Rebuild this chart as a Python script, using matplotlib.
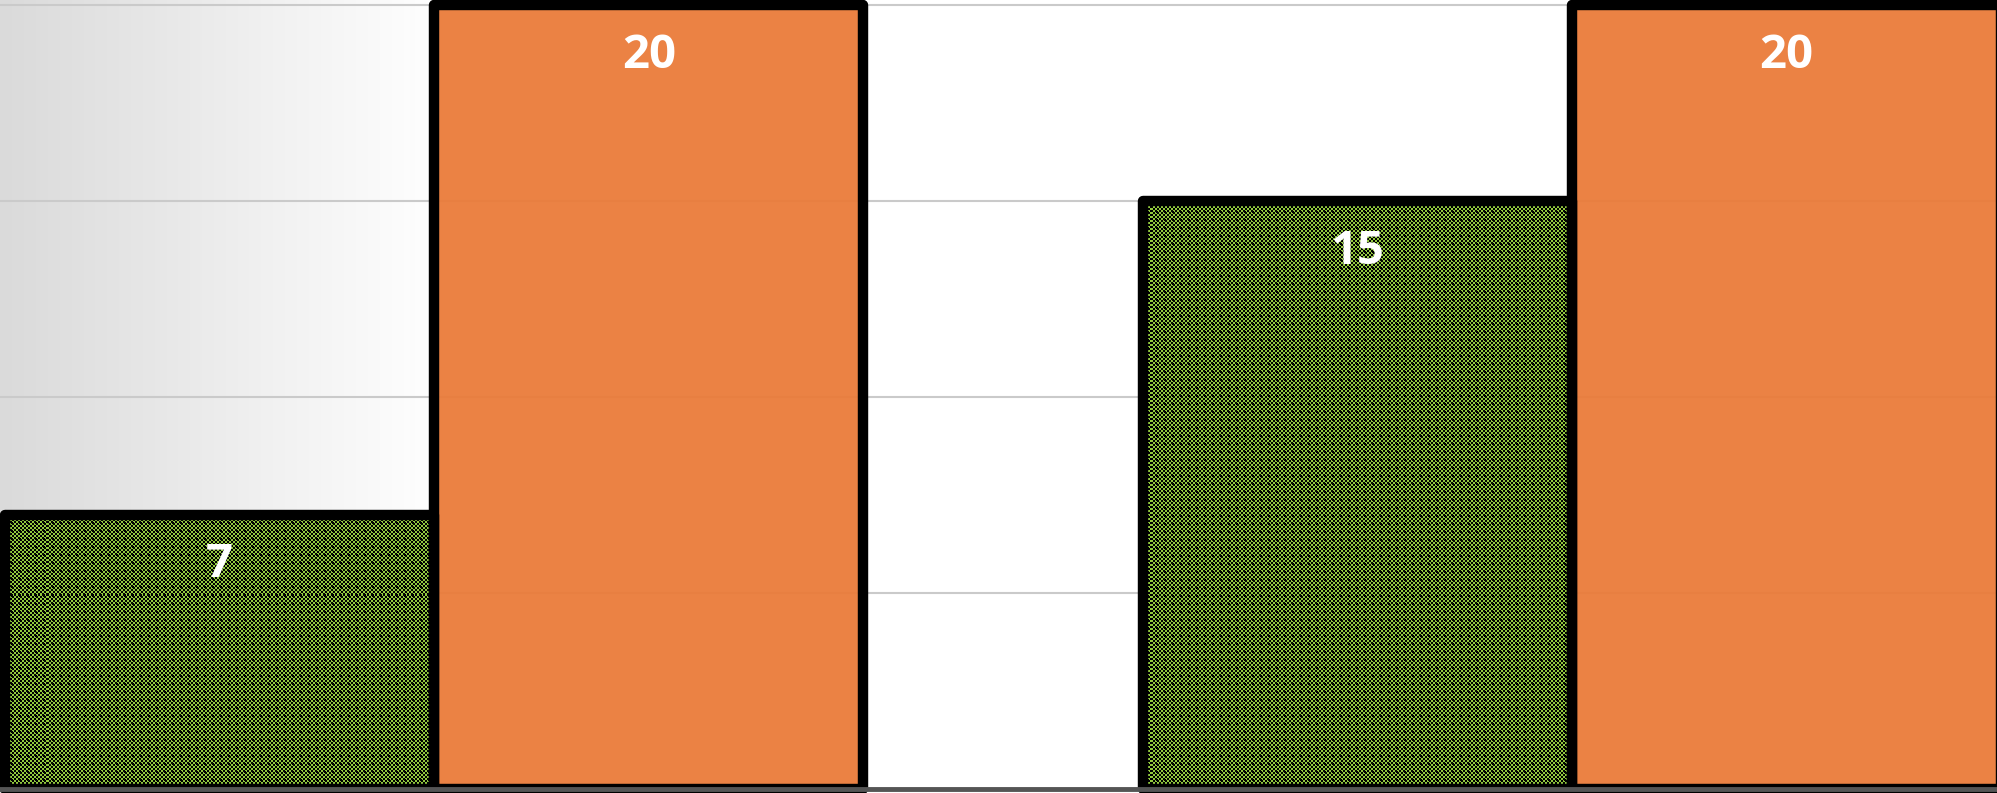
import matplotlib

matplotlib.use("Agg")
import matplotlib.pyplot as plt
import numpy as np

# two categories, two series
categories = ["Group 1", "Group 2"]
green_values = [7, 15]
orange_values = [20, 20]
grid_ticks = [5, 10, 15, 20]

GREEN = "#92ca3e"
ORANGE = "#ea7b3a"
GRID = "#cacaca"

W_PX, H_PX = 1997, 793
DPI = 100


def dot_pattern(h, w):
    """Fine checkerboard with small black crosses, like the Office dotted fill."""
    yy, xx = np.mgrid[0:h, 0:w]
    img = np.ones((h, w, 3))
    img[:] = matplotlib.colors.to_rgb(GREEN)
    dark = ((yy // 2 + xx // 2) % 2 == 0)
    cross = ((yy % 8 == 4) & (np.abs((xx % 8) - 4) <= 1)) | \
            ((xx % 8 == 4) & (np.abs((yy % 8) - 4) <= 1))
    img[dark | cross] = 0.0
    return img


fig = plt.figure(figsize=(W_PX / DPI, H_PX / DPI), dpi=DPI)
ax = fig.add_axes([0, 0, 1, 1])

x = np.arange(len(categories))
width = 0.3774
xlim = (-0.3814, 1.3735)
ylim = (-0.102, 20.135)
ax.set_xlim(*xlim)
ax.set_ylim(*ylim)

# grey-to-white wash on the left of the plot area
grad = np.linspace(0.855, 1.0, 256)[None, :]
grad = np.repeat(grad, 2, axis=0)
ax.imshow(np.dstack([grad] * 3), extent=[0, 0.22, 0, 1], transform=ax.transAxes,
          aspect="auto", zorder=0, interpolation="bilinear")

for t in grid_ticks:
    ax.axhline(t, color=GRID, linewidth=1.5, zorder=1)

green_bars = ax.bar(x - width / 2, green_values, width, facecolor="none",
                    edgecolor="black", linewidth=7.5, joinstyle="round", zorder=4)
orange_bars = ax.bar(x + width / 2, orange_values, width,
                     facecolor=matplotlib.colors.to_rgba(ORANGE, 0.95),
                     edgecolor="black", linewidth=7.5, joinstyle="round", zorder=3)

pattern = dot_pattern(H_PX, W_PX)
for bar in green_bars:
    im = ax.imshow(pattern, extent=[*xlim, *ylim], origin="upper", aspect="auto",
                   interpolation="nearest", zorder=2)
    im.set_clip_path(bar)

ax.set_xlim(*xlim)
ax.set_ylim(*ylim)

for bars, values in ((green_bars, green_values), (orange_bars, orange_values)):
    for bar, v in zip(bars, values):
        ax.annotate(f"{v}", (bar.get_x() + bar.get_width() / 2, v),
                    xytext=(0, -50), textcoords="offset pixels",
                    ha="center", va="center", color="white", fontsize=34,
                    fontweight="bold", family=["Open Sans", "DejaVu Sans"], zorder=5)

for side in ("top", "left", "right"):
    ax.spines[side].set_visible(False)
ax.spines["bottom"].set_position(("data", 0))
ax.spines["bottom"].set_color("#555555")
ax.spines["bottom"].set_linewidth(3.5)
ax.spines["bottom"].set_zorder(6)
ax.set_xticks([])
ax.set_yticks([])

fig.savefig("out.png", dpi=DPI)
